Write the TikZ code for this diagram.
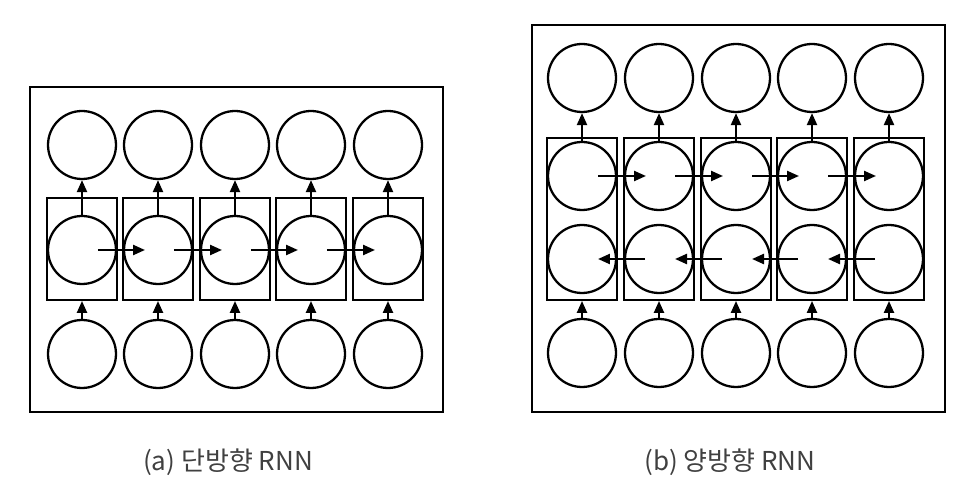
\documentclass[tikz,border=0pt]{standalone}
\usepackage{fontspec}
\setmainfont{Noto Sans CJK KR}
\usetikzlibrary{arrows.meta}

\begin{document}
\begin{tikzpicture}[x=0.02cm,y=-0.02cm,
  unit/.style={draw,circle,line width=1.3pt,minimum size=1.36cm,inner sep=0pt},
  cell/.style={draw,line width=1.1pt,minimum width=1.4cm,inner sep=0pt},
  frame/.style={line width=1.3pt},
  arr/.style={-{Triangle[length=2.4mm,width=2mm]},line width=1.3pt},
  caption/.style={font=\fontsize{14.8}{17}\selectfont,text=black!75}]
\useasboundingbox (0,0) rectangle (971,486);
% (a) one direction
\draw[frame] (30,87) rectangle (443,412);
\foreach \i/\x in {1/82,2/158,3/235,4/311,5/388} {
  \node[cell,minimum height=2.04cm] (a-box-\i) at (\x,249) {};
  \node[unit] (a-out-\i) at (\x,145) {};
  \node[unit] (a-h-\i) at (\x,250) {};
  \node[unit] (a-in-\i) at (\x,354) {};
  \draw[arr] (a-in-\i) -- (a-box-\i.south);
  \draw[arr] (a-h-\i) -- (a-out-\i);
}
\foreach \i/\j in {1/2,2/3,3/4,4/5}
  \draw[arr] ([xshift=0.32cm]a-h-\i.center) -- ([xshift=-0.26cm]a-h-\j.center);
\node[caption] (a-cap) at (228,462) {(a) 단방향 RNN};
% (b) both directions
\draw[frame] (532,25) rectangle (945,412);
\foreach \i/\x in {1/582,2/659,3/736,4/812,5/889} {
  \node[cell,minimum height=3.24cm] (b-box-\i) at (\x,219) {};
  \node[unit] (b-out-\i) at (\x,78) {};
  \node[unit] (b-fw-\i) at (\x,176) {};
  \node[unit] (b-bw-\i) at (\x,259) {};
  \node[unit] (b-in-\i) at (\x,353) {};
  \draw[arr] (b-in-\i) -- (b-box-\i.south);
  \draw[arr] (b-fw-\i) -- (b-out-\i);
}
\foreach \i/\j in {1/2,2/3,3/4,4/5} {
  \draw[arr] ([xshift=0.32cm]b-fw-\i.center) -- ([xshift=-0.26cm]b-fw-\j.center);
  \draw[arr] ([xshift=-0.28cm]b-bw-\j.center) -- ([xshift=0.32cm]b-bw-\i.center);
}
\node[caption] (b-cap) at (730,462) {(b) 양방향 RNN};
\end{tikzpicture}
\end{document}
